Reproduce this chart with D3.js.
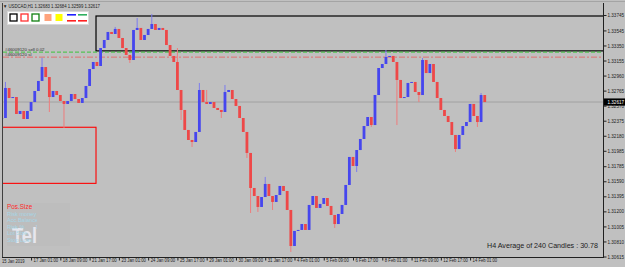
<!DOCTYPE html>
<html>
<head>
<meta charset="utf-8">
<script src="https://cdn.jsdelivr.net/npm/d3@7"></script>
<style>
  body { margin: 0; background: #c0c0c0; }
  svg { display: block; font-family: 'Liberation Sans', Arial, sans-serif; }
</style>
</head>
<body>
<svg id="chart"></svg>
<script>
const w = 625;
const h = 267;

// H4-sized steps (4 x H1 bars)
const closes = [
  1.32410, 1.32799, 1.32669, 1.32682, 1.32462, 1.32501, 1.32397, 1.32501, 1.32617, 1.32760,
  1.32890, 1.33071, 1.32941, 1.32682, 1.32760, 1.32708, 1.32630, 1.32592, 1.32630, 1.32721,
  1.32656, 1.32605, 1.32669, 1.32825, 1.33045, 1.33136, 1.33084, 1.33317, 1.33421, 1.33525,
  1.33499, 1.33564, 1.33447, 1.33317, 1.33227, 1.33162, 1.33551, 1.33577, 1.33421, 1.33486,
  1.33564, 1.33628, 1.33551, 1.33577, 1.33551, 1.33356, 1.33214, 1.33136, 1.32773, 1.32514,
  1.32255, 1.32125, 1.32099, 1.32229, 1.32773, 1.32617, 1.32592, 1.32617, 1.32540, 1.32514,
  1.32488, 1.32747, 1.32773, 1.32656, 1.32566, 1.32410, 1.32229, 1.31957, 1.31503, 1.31399,
  1.31257, 1.31386, 1.31555, 1.31399, 1.31322, 1.31412, 1.31529, 1.31464, 1.31218, 1.30751,
  1.30946, 1.30959, 1.31036, 1.30959, 1.31283, 1.31399, 1.31244, 1.31296, 1.31373, 1.31270,
  1.31153, 1.31036, 1.31166, 1.31283, 1.31542, 1.31905, 1.31788, 1.31995, 1.32138, 1.32306,
  1.32423, 1.32319, 1.32708, 1.33058, 1.33110, 1.33201, 1.33214, 1.33136, 1.32903, 1.32669,
  1.32682, 1.32864, 1.32877, 1.32747, 1.32708, 1.33162, 1.32993, 1.33110, 1.32877, 1.32669,
  1.32514, 1.32436, 1.32358, 1.32190, 1.32008, 1.32190, 1.32306, 1.32358, 1.32592, 1.32436,
  1.32358, 1.32708, 1.32617,
];

// long shadows: [step, price]
const wicks = [
  [0, 1.32294], [1, 1.32877], [11, 1.33188], [13, 1.32488], [17, 1.32281],
  [31, 1.33590], [35, 1.33123], [37, 1.33706], [41, 1.33758], [48, 1.33317],
  [49, 1.32384], [52, 1.32034], [54, 1.32864], [56, 1.32773], [60, 1.32410],
  [61, 1.32838], [67, 1.31892], [68, 1.31179], [70, 1.31192], [72, 1.31646],
  [74, 1.31218], [79, 1.30674], [91, 1.30985], [97, 1.31710], [101, 1.32294],
  [105, 1.33291], [108, 1.32319], [114, 1.32617], [115, 1.33188], [124, 1.31970],
  [130, 1.32294], [131, 1.32734],
];

const priceTicks = [
  1.33745, 1.33545, 1.33350, 1.33155, 1.32960, 1.32765, 1.32570, 1.32375, 1.32180,
  1.31985, 1.31785, 1.31590, 1.31395, 1.31200, 1.31005, 1.30810, 1.30615,
];

const timeLabels = [
  '15 Jan 2019', '17 Jan 01:00', '18 Jan 09:00', '21 Jan 17:00', '23 Jan 01:00',
  '24 Jan 09:00', '25 Jan 17:00', '29 Jan 01:00', '30 Jan 09:00', '31 Jan 17:00',
  '4 Feb 01:00', '5 Feb 09:00', '6 Feb 17:00', '8 Feb 01:00', '11 Feb 09:00',
  '12 Feb 17:00', '14 Feb 01:00',
];

const barsPerStep = 4;
const barsPerLabel = 32;
const lastPrice = 1.32617;
const titleText = 'USDCAD,H1  1.32683 1.32684 1.32599 1.32617';
const orderOpen = 1.33264;
const orderStop = 1.33199;
const orderLabels = ['#46009120 sell 0.02', '#46009120 sl'];
const upperZone = [1.33732, 1.33280];
const lowerZone = [1.32290, 1.31563];
const zoneSplitBar = 103;
const posSizeTitle = 'Pos.Size';
const posSizeLines = ['Risk money', 'Acc.Balance', 'Risk %       1', 'Lot Size', 'Stop Loss'];
const averageText = 'H4 Average of 240 Candles : 30.78';

const plotLeft = 3;
const plotRight = 603;
const plotTop = 3;
const plotBottom = 257;
const charW = 2.05;

const xScale = d3.scaleLinear().domain([0, 512]).range([1.8, 470.1]);
const yScale = d3.scaleLinear().domain([1.30615, 1.33745]).range([256.5, 15]);

const candles = closes.map((c, i) => {
  const open = i ? closes[i - 1] : c;
  return { i, open, close: c, high: Math.max(open, c), low: Math.min(open, c) };
});
wicks.forEach(([i, p]) => {
  candles[i].high = Math.max(candles[i].high, p);
  candles[i].low = Math.min(candles[i].low, p);
});

const svg = d3.select('#chart').attr('width', w).attr('height', h);

svg.append('rect').attr('width', w).attr('height', h).attr('fill', '#c0c0c0');

const defs = svg.append('defs');

defs
  .append('clipPath')
  .attr('id', 'plot')
  .append('rect')
  .attr('x', plotLeft)
  .attr('y', plotTop)
  .attr('width', plotRight - plotLeft)
  .attr('height', plotBottom - plotTop);

defs
  .append('clipPath')
  .attr('id', 'panel')
  .append('rect')
  .attr('x', 6)
  .attr('y', 200)
  .attr('width', 31)
  .attr('height', 50);

const plot = svg.append('g').attr('clip-path', 'url(#plot)');

// zones
plot
  .append('rect')
  .attr('x', xScale(zoneSplitBar))
  .attr('y', yScale(upperZone[0]))
  .attr('width', plotRight + 5 - xScale(zoneSplitBar))
  .attr('height', yScale(upperZone[1]) - yScale(upperZone[0]))
  .attr('fill', 'none')
  .attr('stroke', '#000')
  .attr('stroke-width', 1.2);

plot
  .append('rect')
  .attr('x', plotLeft - 5)
  .attr('y', yScale(lowerZone[0]))
  .attr('width', xScale(zoneSplitBar) - plotLeft + 5)
  .attr('height', yScale(lowerZone[1]) - yScale(lowerZone[0]))
  .attr('fill', 'none')
  .attr('stroke', '#ff0000')
  .attr('stroke-width', 1.1);

// bid line and order lines
plot
  .append('line')
  .attr('x1', plotLeft)
  .attr('x2', plotRight)
  .attr('y1', yScale(lastPrice))
  .attr('y2', yScale(lastPrice))
  .attr('stroke', '#a2a2a2');

plot
  .append('line')
  .attr('x1', plotLeft)
  .attr('x2', plotRight)
  .attr('y1', yScale(orderOpen))
  .attr('y2', yScale(orderOpen))
  .attr('stroke', '#3cc43c')
  .attr('stroke-dasharray', '4,2');

plot
  .append('line')
  .attr('x1', plotLeft)
  .attr('x2', plotRight)
  .attr('y1', yScale(orderStop))
  .attr('y2', yScale(orderStop))
  .attr('stroke', '#e07070')
  .attr('stroke-dasharray', '6,2,2,2');

plot
  .selectAll('.order-label')
  .data([orderOpen, orderStop])
  .enter()
  .append('text')
  .attr('class', 'order-label')
  .attr('x', 5)
  .attr('y', d => yScale(d) - 1.5)
  .attr('font-size', 4.4)
  .attr('fill', '#303030')
  .text((d, i) => orderLabels[i]);

// candles
const candleX = d => xScale(d.i * barsPerStep);
const isUp = d => d.close >= d.open;

plot
  .selectAll('.wick')
  .data(candles)
  .enter()
  .append('line')
  .attr('class', 'wick')
  .attr('x1', candleX)
  .attr('x2', candleX)
  .attr('y1', d => yScale(d.high))
  .attr('y2', d => yScale(d.low))
  .attr('stroke', d => (isUp(d) ? '#7c7cee' : '#ee7c7c'))
  .attr('stroke-width', 1);

plot
  .selectAll('.body')
  .data(candles)
  .enter()
  .append('rect')
  .attr('class', 'body')
  .attr('x', d => candleX(d) - 1.4)
  .attr('width', 2.8)
  .attr('y', d => yScale(Math.max(d.open, d.close)))
  .attr('height', d => Math.max(1, Math.abs(yScale(d.open) - yScale(d.close))))
  .attr('fill', d => (isUp(d) ? '#4646ee' : '#ee4848'));

// frame
svg
  .append('line')
  .attr('x1', 0)
  .attr('x2', w)
  .attr('y1', 1.5)
  .attr('y2', 1.5)
  .attr('stroke', '#a4a4a4');

svg
  .append('line')
  .attr('x1', plotLeft - 0.5)
  .attr('x2', plotLeft - 0.5)
  .attr('y1', plotTop)
  .attr('y2', plotBottom)
  .attr('stroke', '#404040');

svg
  .append('line')
  .attr('x1', plotRight + 0.5)
  .attr('x2', plotRight + 0.5)
  .attr('y1', plotTop)
  .attr('y2', plotBottom + 1)
  .attr('stroke', '#202020');

svg
  .append('line')
  .attr('x1', plotLeft - 1)
  .attr('x2', plotRight + 1)
  .attr('y1', plotBottom + 0.5)
  .attr('y2', plotBottom + 0.5)
  .attr('stroke', '#202020');

// axes
const yAxis = d3
  .axisRight(yScale)
  .tickValues(priceTicks)
  .tickSize(3)
  .tickFormat(d3.format('.5f'));

const yAxisG = svg
  .append('g')
  .attr('transform', `translate(${plotRight + 0.5},0)`)
  .call(yAxis);
yAxisG.select('.domain').remove();
yAxisG.selectAll('line').attr('stroke', '#202020');
yAxisG
  .selectAll('text')
  .attr('x', 4)
  .attr('font-size', 5)
  .attr('textLength', 16.5)
  .attr('lengthAdjust', 'spacingAndGlyphs')
  .attr('fill', '#202020')
  .attr('font-family', "'Liberation Sans', Arial, sans-serif");

const labelBars = timeLabels.map((d, i) => i * barsPerLabel);

const xAxis = d3
  .axisBottom(xScale)
  .tickValues(labelBars.slice(1))
  .tickSize(3)
  .tickFormat((d, i) => timeLabels[i + 1]);

const xAxisG = svg
  .append('g')
  .attr('transform', `translate(0,${plotBottom + 0.5})`)
  .call(xAxis);
xAxisG.select('.domain').remove();
xAxisG.selectAll('line').attr('stroke', '#202020');
xAxisG
  .selectAll('text')
  .attr('text-anchor', 'start')
  .attr('x', 2)
  .attr('y', 1)
  .attr('dy', '0.71em')
  .attr('font-size', 4.8)
  .attr('textLength', (d, i) => timeLabels[i + 1].length * charW)
  .attr('lengthAdjust', 'spacingAndGlyphs')
  .attr('fill', '#202020')
  .attr('font-family', "'Liberation Sans', Arial, sans-serif");

svg
  .append('text')
  .attr('x', 2)
  .attr('y', plotBottom + 5.9)
  .attr('font-size', 4.8)
  .attr('textLength', timeLabels[0].length * charW)
  .attr('lengthAdjust', 'spacingAndGlyphs')
  .attr('fill', '#202020')
  .text(timeLabels[0]);

// last price marker
const lastY = yScale(lastPrice);
svg
  .append('rect')
  .attr('x', plotRight + 1)
  .attr('y', lastY - 3.6)
  .attr('width', 22)
  .attr('height', 7.2)
  .attr('fill', '#000');

svg
  .append('text')
  .attr('x', plotRight + 4.5)
  .attr('y', lastY + 1.8)
  .attr('font-size', 5)
  .attr('textLength', 16.5)
  .attr('lengthAdjust', 'spacingAndGlyphs')
  .attr('fill', '#fff')
  .text(d3.format('.5f')(lastPrice));

// title
svg
  .append('text')
  .attr('x', 3)
  .attr('y', 7.5)
  .attr('font-size', 4.8)
  .attr('textLength', 97)
  .attr('lengthAdjust', 'spacingAndGlyphs')
  .attr('fill', '#202020')
  .text('\u25BC ' + titleText);

// object toolbar
const tools = svg.append('g');
tools
  .append('rect')
  .attr('x', 7.5)
  .attr('y', 11.5)
  .attr('width', 81)
  .attr('height', 13)
  .attr('fill', '#fff')
  .attr('stroke', '#d8d8d8');

const swatches = [
  { x: 10, stroke: '#000', fill: 'none' },
  { x: 21, stroke: '#ff3030', fill: 'none' },
  { x: 32, stroke: '#108010', fill: 'none' },
  { x: 44.5, stroke: 'none', fill: '#ffa37c' },
  { x: 55.5, stroke: 'none', fill: '#ffff00' },
];
tools
  .selectAll('.swatch')
  .data(swatches)
  .enter()
  .append('rect')
  .attr('class', 'swatch')
  .attr('x', d => d.x)
  .attr('y', 14)
  .attr('width', 7)
  .attr('height', 7)
  .attr('fill', d => d.fill)
  .attr('stroke', d => d.stroke)
  .attr('stroke-width', 1.3);

const pairs = [
  { x: 67, top: '#2020ff', bottom: '#ff2020' },
  { x: 78, top: '#30b060', bottom: '#ff2020' },
];
pairs.forEach(p => {
  tools.append('rect').attr('x', p.x).attr('y', 14).attr('width', 9).attr('height', 1.6).attr('fill', p.top);
  tools.append('rect').attr('x', p.x).attr('y', 20).attr('width', 9).attr('height', 1.6).attr('fill', p.bottom);
});

// position size panel
svg
  .append('rect')
  .attr('x', 7)
  .attr('y', 203)
  .attr('width', 63)
  .attr('height', 43)
  .attr('fill', '#bdbdbd');

svg
  .append('text')
  .attr('x', 12)
  .attr('y', 243)
  .attr('font-size', 22)
  .attr('font-weight', 'bold')
  .attr('textLength', 25)
  .attr('lengthAdjust', 'spacingAndGlyphs')
  .attr('fill', '#eeeef6')
  .attr('opacity', 0.85)
  .text('Tel');

svg
  .append('text')
  .attr('x', 7)
  .attr('y', 209)
  .attr('font-size', 6.4)
  .attr('fill', '#ff2a2a')
  .text(posSizeTitle);

svg
  .append('g')
  .attr('clip-path', 'url(#panel)')
  .selectAll('text')
  .data(posSizeLines)
  .enter()
  .append('text')
  .attr('x', 7)
  .attr('y', (d, i) => 215.5 + i * 6.6)
  .attr('font-size', 5.6)
  .attr('fill', '#a6d6e6')
  .style('white-space', 'pre')
  .text(d => d);

svg
  .append('text')
  .attr('x', 598)
  .attr('y', 248)
  .attr('text-anchor', 'end')
  .attr('font-size', 8)
  .attr('textLength', 111)
  .attr('lengthAdjust', 'spacingAndGlyphs')
  .attr('fill', '#1c1c1c')
  .text(averageText);
</script>
</body>
</html>
